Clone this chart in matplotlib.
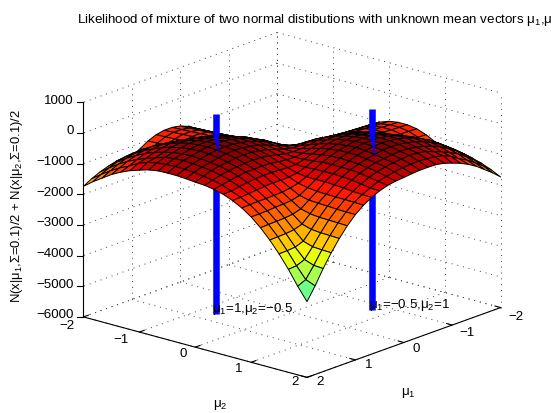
import numpy as np
import matplotlib
matplotlib.use("Agg")
import matplotlib.pyplot as plt
from matplotlib.colors import Normalize
from mpl_toolkits.mplot3d.art3d import Poly3DCollection

plt.rcParams['font.family'] = ['Liberation Sans', 'DejaVu Sans']
plt.rcParams['mathtext.fontset'] = 'custom'
plt.rcParams['mathtext.rm'] = 'Liberation Sans'
plt.rcParams['mathtext.it'] = 'Liberation Sans'
plt.rcParams['mathtext.bf'] = 'Liberation Sans'

mu_grid = [-2.0, -1.833, -1.667, -1.5, -1.333, -1.167, -1.0, -0.833, -0.667, -0.5, -0.333, -0.167, 0.0,
           0.167, 0.333, 0.5, 0.667, 0.833, 1.0, 1.167, 1.333, 1.5, 1.667, 1.833, 2.0]
likelihood = [
    [-5450, -4880, -4250, -3660, -3130, -2650, -2220, -1850, -1660, -1390, -1180, -1020, -910, -860, -860, -910, -1020, -1180, -1325, -1270, -1310, -1380, -1470, -1590, -1740],
    [-4880, -4750, -4230, -3660, -3130, -2650, -2220, -1850, -1650, -1380, -1170, -1010, -900, -850, -850, -900, -1010, -1170, -1090, -1050, -1090, -1150, -1250, -1370, -1510],
    [-4250, -4230, -4110, -3640, -3120, -2650, -2220, -1850, -1635, -1365, -1155, -995, -885, -835, -835, -885, -995, -955, -880, -850, -890, -950, -1050, -1170, -1310],
    [-3660, -3660, -3640, -3530, -3110, -2640, -2220, -1850, -1620, -1350, -1140, -980, -870, -820, -820, -870, -800, -760, -705, -670, -710, -780, -870, -990, -1110],
    [-3130, -3130, -3120, -3110, -2990, -2620, -2210, -1840, -1595, -1335, -1115, -965, -855, -805, -805, -705, -645, -605, -545, -530, -570, -630, -730, -850, -950],
    [-2650, -2650, -2650, -2640, -2620, -2510, -2190, -1830, -1570, -1310, -1090, -940, -830, -780, -660, -570, -510, -470, -420, -410, -450, -510, -610, -680, -820],
    [-2220, -2220, -2220, -2220, -2210, -2190, -2090, -1800, -1545, -1275, -1075, -915, -815, -765, -555, -465, -395, -355, -320, -310, -350, -420, -510, -560, -720],
    [-1850, -1850, -1850, -1850, -1840, -1830, -1800, -1710, -1500, -1250, -1050, -900, -800, -590, -470, -380, -320, -270, -245, -240, -290, -350, -410, -500, -630],
    [-1660, -1650, -1635, -1620, -1595, -1570, -1545, -1500, -1405, -1215, -1025, -875, -675, -525, -415, -325, -265, -225, -195, -210, -250, -310, -370, -470, -580],
    [-1390, -1380, -1365, -1350, -1335, -1310, -1275, -1250, -1215, -1130, -990, -800, -630, -500, -390, -300, -230, -190, -180, -190, -230, -300, -350, -450, -570],
    [-1180, -1170, -1155, -1140, -1115, -1090, -1075, -1050, -1025, -990, -910, -790, -640, -510, -400, -310, -250, -210, -190, -210, -250, -310, -370, -460, -570],
    [-1020, -1010, -995, -980, -965, -940, -915, -900, -875, -800, -790, -750, -660, -550, -440, -350, -290, -250, -230, -250, -290, -350, -400, -480, -590],
    [-910, -900, -885, -870, -855, -830, -815, -800, -675, -630, -640, -660, -650, -580, -500, -410, -350, -310, -300, -310, -350, -380, -440, -520, -620],
    [-860, -850, -835, -820, -805, -780, -765, -590, -525, -500, -510, -550, -580, -590, -560, -500, -440, -400, -390, -400, -420, -450, -500, -570, -640],
    [-860, -850, -835, -820, -805, -660, -555, -470, -415, -390, -400, -440, -500, -560, -590, -580, -550, -510, -500, -510, -510, -540, -590, -640, -690],
    [-910, -900, -885, -870, -705, -570, -465, -380, -325, -300, -310, -350, -410, -500, -580, -650, -660, -640, -630, -630, -640, -670, -710, -760, -770],
    [-1020, -1010, -995, -800, -645, -510, -395, -320, -265, -230, -250, -290, -350, -440, -550, -660, -750, -790, -800, -790, -810, -830, -860, -880, -890],
    [-1180, -1170, -955, -760, -605, -470, -355, -270, -225, -190, -210, -250, -310, -400, -510, -640, -790, -910, -970, -1010, -1020, -1030, -1030, -1040, -1050],
    [-1325, -1090, -880, -705, -545, -420, -320, -245, -195, -180, -190, -230, -300, -390, -500, -630, -800, -970, -1130, -1200, -1220, -1230, -1250, -1260, -1260],
    [-1270, -1050, -850, -670, -530, -410, -310, -240, -210, -190, -210, -250, -310, -400, -510, -630, -790, -1010, -1200, -1390, -1470, -1500, -1510, -1520, -1530],
    [-1310, -1090, -890, -710, -570, -450, -350, -290, -250, -230, -250, -290, -350, -420, -510, -640, -810, -1020, -1220, -1470, -1710, -1800, -1830, -1840, -1850],
    [-1380, -1150, -950, -780, -630, -510, -420, -350, -310, -300, -310, -350, -380, -450, -540, -670, -830, -1030, -1230, -1500, -1800, -2090, -2190, -2210, -2220],
    [-1470, -1250, -1050, -870, -730, -610, -510, -410, -370, -350, -370, -400, -440, -500, -590, -710, -860, -1030, -1250, -1510, -1830, -2190, -2510, -2620, -2640],
    [-1590, -1370, -1170, -990, -850, -680, -560, -500, -470, -450, -460, -480, -520, -570, -640, -760, -880, -1040, -1260, -1520, -1840, -2210, -2620, -2990, -3110],
    [-1740, -1510, -1310, -1110, -950, -820, -720, -630, -580, -570, -570, -590, -620, -640, -690, -770, -890, -1050, -1260, -1530, -1850, -2220, -2640, -3110, -3530],
]
mu_ticks = [-2, -1, 0, 1, 2]
z_ticks = [-6000, -5000, -4000, -3000, -2000, -1000, 0, 1000]
peak_mu1 = [1, -0.5]
peak_mu2 = [-0.5, 1]
peak_labels = [r'$\mu_1$=1,$\mu_2$=−0.5', r'$\mu_1$=−0.5,$\mu_2$=1']
line_bottom = [-5740, -5720]
line_top = [790, 840]
wedge_top = [130, 60]
wedge_tip = [-546, -755]
color_low = -5640
color_high = -180

AZIM = 40.9
ELEV = 18.2
PX_PER_MU = 73.7
PX_PER_Z = 0.0306
TEXT_SIZE = 9.6
# tick label offsets in pixels, one per mu tick
MU2_LABEL_DX = [-16.5, -18, -12.5, -12, -12]
MU2_LABEL_DY = [-9.3, -8.3, -7.3, -6.3, -5]
MU1_LABEL_DX = [15.5, 15, 12.5, 13, 13]
MU1_LABEL_DY = [-9, -8, -7, -5.5, -5]


def shift(x, y, z, dx, dy):
    """Moves a 3d point by dx, dy pixels on the screen (dy is up)"""
    a = np.radians(AZIM)
    return (x - np.sin(a) * dx / PX_PER_MU, y + np.cos(a) * dx / PX_PER_MU, z + dy / PX_PER_Z)


def label(x, y, z, dx, dy, s, **kwargs):
    px, py, pz = shift(x, y, z, dx, dy)
    ax.text(px, py, pz, s, fontsize=TEXT_SIZE, zorder=8, **kwargs)


def minus(v):
    return str(v).replace('-', '−')


fig = plt.figure(figsize=(5.51, 4.13), dpi=100)
# axes much larger than the box, artists get clipped to it otherwise
ax = fig.add_axes([4.5 / 551, -79.5 / 413, 560 / 551, 560 / 413], projection='3d', proj_type='ortho',
                  computed_zorder=False)
ax.view_init(elev=ELEV, azim=AZIM)
ax.set_box_aspect((1, 1, 0.764), zoom=0.824)
ax.set_axis_off()

mu = np.array(mu_grid)
Z = np.array(likelihood, dtype=float)
X, Y = np.meshgrid(mu, mu)
z_low, z_high = z_ticks[0], z_ticks[-1]

# back walls and floor grid
grid = dict(color='0.25', linestyle=(0, (1, 5)), linewidth=0.7, zorder=1)
for t in mu_ticks:
    ax.plot([t, t], [-2, 2], [z_low, z_low], **grid)
    ax.plot([-2, 2], [t, t], [z_low, z_low], **grid)
    ax.plot([t, t], [-2, -2], [z_low, z_high], **grid)
    ax.plot([-2, -2], [t, t], [z_low, z_high], **grid)
for t in z_ticks:
    ax.plot([-2, 2], [-2, -2], [t, t], **grid)
    ax.plot([-2, -2], [-2, 2], [t, t], **grid)

# lower part of the marker lines goes behind the surface
for m1, m2, lo, top in zip(peak_mu1, peak_mu2, line_bottom, wedge_top):
    ax.plot([m1, m1], [m2, m2], [lo, top], color='b', linewidth=4.7, solid_capstyle='butt', zorder=2)

colors = plt.cm.jet(Normalize(color_low, color_high)(Z))
ax.plot_surface(X, Y, Z, facecolors=colors, rstride=1, cstride=1, shade=False,
                edgecolor='k', linewidth=0.7, zorder=3)

# upper part of the marker lines, narrowing into the surface
for m1, m2, w_top, tip, top in zip(peak_mu1, peak_mu2, wedge_top, wedge_tip, line_top):
    ax.plot([m1, m1], [m2, m2], [w_top, top], color='b', linewidth=4.7, solid_capstyle='butt', zorder=4)
    verts = [shift(m1, m2, w_top, -3.2, 0), shift(m1, m2, w_top, 3.2, 0), shift(m1, m2, tip, 3.2, 0)]
    ax.add_collection3d(Poly3DCollection([verts], facecolor='b', edgecolor='none', zorder=4), autolim=False)

# solid axes
axis = dict(color='k', linewidth=0.8, zorder=5)
ax.plot([2, 2], [-2, 2], [z_low, z_low], **axis)
ax.plot([-2, 2], [2, 2], [z_low, z_low], **axis)
ax.plot([2, 2], [-2, -2], [z_low, z_high], **axis)
for i, t in enumerate(mu_ticks):
    ax.plot([2, 1.9], [t, t], [z_low, z_low], **axis)
    ax.plot([t, t], [2, 1.9], [z_low, z_low], **axis)
    label(2, t, z_low, MU2_LABEL_DX[i], MU2_LABEL_DY[i], minus(t), ha='center', va='center')
    label(t, 2, z_low, MU1_LABEL_DX[i], MU1_LABEL_DY[i], minus(t), ha='center', va='center')
for t in z_ticks:
    p = shift(2, -2, t, -6, 0)
    ax.plot([2, p[0]], [-2, p[1]], [t, p[2]], **axis)
    label(2, -2, t, -10, 1.5, minus(t), ha='right', va='center')

for m1, m2, lo, s in zip(peak_mu1, peak_mu2, line_bottom, peak_labels):
    label(m1, m2, lo, -3.5, 5, s, ha='left', va='center')

ax.set_xlim(-2, 2)
ax.set_ylim(-2, 2)
ax.set_zlim(z_low, z_high)

fig.text(77 / 551, 1 - 20 / 413, 'Likelihood of mixture of two normal distibutions with unknown mean vectors $\\mu_1$,$\\mu_2$',
         fontsize=TEXT_SIZE, ha='left', va='center')
fig.text(17 / 551, 1 - 205.5 / 413, r'N(x|$\mu_1$,Σ=0.1)/2 + N(x|$\mu_2$,Σ=0.1)/2', fontsize=9.4,
         rotation=90, ha='center', va='center')
fig.text(408 / 551, 1 - 393 / 413, r'$\mu_1$', fontsize=TEXT_SIZE, ha='center', va='center')
fig.text(220.5 / 551, 1 - 405 / 413, r'$\mu_2$', fontsize=TEXT_SIZE, ha='center', va='center')

fig.savefig('out.png', dpi=100)
